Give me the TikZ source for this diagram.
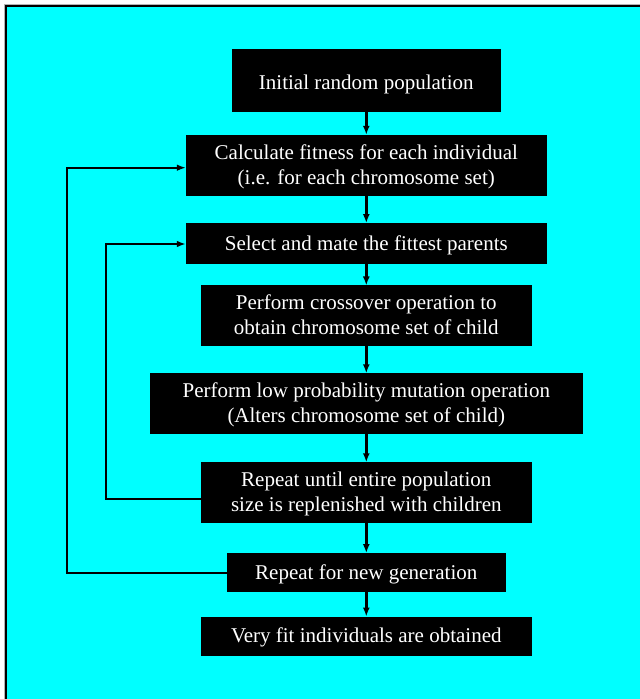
\documentclass[tikz,border=0pt]{standalone}
\usepackage{fontspec}
\setmainfont{Liberation Serif}
\usetikzlibrary{arrows.meta}
\definecolor{bgcyan}{RGB}{0,255,255}
\begin{document}
\begin{tikzpicture}[x=1pt,y=-1pt,
  stepbox/.style={fill=black,text=white,draw=black,inner sep=0pt,align=center,
    font=\fontsize{21}{25}\selectfont,text height=14pt,text depth=0pt},
  twoline/.style={text height=39pt},
  arr/.style={line width=2.6pt,-{Latex[length=9pt,width=7pt]}},
  fb/.style={line width=2pt,-{Latex[length=9pt,width=6.5pt]}}]
\useasboundingbox (0,0) rectangle (640,699);
\begin{scope}
\clip (0,0) rectangle (640,699);
\fill[white] (0,0) rectangle (640,699);
\draw[gray!60,line width=1pt] (4,4) rectangle (700,760);
\draw[fill=bgcyan,draw=black,line width=2pt] (6,6) rectangle (700,760);
\end{scope}
\node[stepbox,text height=18pt,minimum width=268pt,minimum height=61.4pt] (b1) at (366.3,80) {Initial random population};
\node[stepbox,twoline,minimum width=360.3pt,minimum height=60pt] (b2) at (366.3,165) {Calculate fitness for each individual\\(i.e. for each chromosome set)};
\node[stepbox,minimum width=360.3pt,minimum height=40pt] (b3) at (366.3,243.3) {Select and mate the fittest parents};
\node[stepbox,twoline,minimum width=329.3pt,minimum height=59.3pt] (b4) at (366.3,315.3) {Perform crossover operation to\\obtain chromosome set of child};
\node[stepbox,twoline,minimum width=432pt,minimum height=59.8pt] (b5) at (366.3,403.4) {Perform low probability mutation operation\\(Alters chromosome set of child)};
\node[stepbox,twoline,minimum width=329.3pt,minimum height=59.8pt] (b6) at (366.3,492.4) {Repeat until entire population\\size is replenished with children};
\node[stepbox,minimum width=278.4pt,minimum height=38.2pt] (b7) at (366.3,572.4) {Repeat for new generation};
\node[stepbox,minimum width=329.3pt,minimum height=38.3pt] (b8) at (366.3,635.9) {Very fit individuals are obtained};
\draw[arr] (b1) -- (b2);
\draw[arr] (b2) -- (b3);
\draw[arr] (b3) -- (b4);
\draw[arr] (b4) -- (b5);
\draw[arr] (b5) -- (b6);
\draw[arr] (b6) -- (b7);
\draw[arr] (b7) -- (b8);
\coordinate (outer) at (66.7,0);
\coordinate (inner) at (106,0);
\coordinate (s7) at ([yshift=-0.3pt]b7.west);
\coordinate (t2) at ([yshift=-2.7pt]b2.west);
\coordinate (s6) at ([yshift=-6.6pt]b6.west);
\coordinate (t3) at ([yshift=-0.7pt]b3.west);
\draw[fb] (s7) -- (s7 -| outer) |- (t2);
\draw[fb] (s6) -- (s6 -| inner) |- (t3);
\end{tikzpicture}
\end{document}
